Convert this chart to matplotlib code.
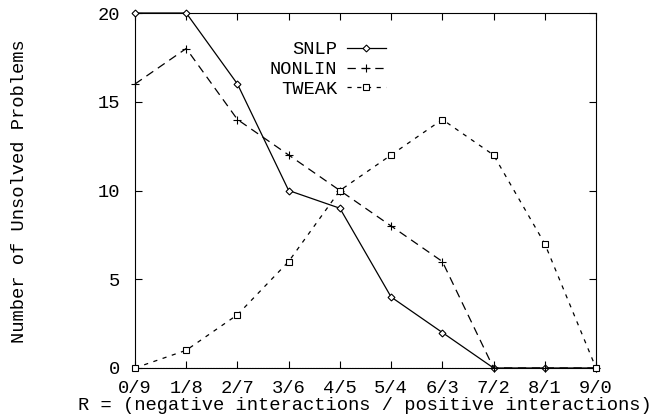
import numpy as np
import matplotlib
matplotlib.use('Agg')
from matplotlib import pyplot as plt

plt.rcParams['font.family'] = ['Liberation Mono', 'DejaVu Sans Mono']
plt.rcParams['font.size'] = 13.5
plt.rcParams['lines.scale_dashes'] = False

# Data
ratios = ['0/9', '1/8', '2/7', '3/6', '4/5', '5/4', '6/3', '7/2', '8/1', '9/0']
snlp = [20, 20, 16, 10, 9, 4, 2, 0, 0, 0]
nonlin = [16, 18, 14, 12, 10, 8, 6, 0, 0, 0]
tweak = [0, 1, 3, 6, 10, 12, 14, 12, 7, 0]

x = np.arange(len(ratios))

fig = plt.figure(figsize=(6.66, 4.2), dpi=100)
ax = fig.add_axes([135/666, 1 - 368/420, (596 - 135)/666, (368 - 13)/420])

# dotted zero axis like gnuplot
ax.axhline(0, color='gray', lw=0.8, ls=(0, (1, 1)), zorder=1)

ax.plot(x, snlp, color='black', lw=0.9, marker='D', markersize=3.5,
        markerfacecolor='white', markeredgewidth=0.8, label='SNLP',
        zorder=3, clip_on=False)
ax.plot(x, nonlin, color='black', lw=0.9, dashes=(6, 4), marker='+',
        markersize=6, markeredgewidth=0.8, label='NONLIN', zorder=3,
        clip_on=False)
ax.plot(x, tweak, color='black', lw=0.9, dashes=(3, 4), marker='s',
        markersize=4.5, markerfacecolor='white', markeredgewidth=0.8,
        label='TWEAK', zorder=3, clip_on=False)

ax.set_xlim(0, 9)
ax.set_ylim(0, 20)
ax.set_xticks(x)
ax.set_xticklabels(ratios)
ax.set_yticks([0, 5, 10, 15, 20])
ax.tick_params(direction='in', length=5, width=0.8, top=True, right=True)
ax.tick_params(axis='x', pad=8.5)
ax.tick_params(axis='y', pad=11)
for s in ax.spines.values():
    s.set_linewidth(0.8)

fig.text(365/666, 1 - 406/420, 'R = (negative interactions / positive interactions)',
         ha='center', va='center')
fig.text(20/666, 1 - 191/420, 'Number of Unsolved Problems',
         ha='center', va='center', rotation=90)

ax.legend(loc='upper right', bbox_to_anchor=(386/666, 1 - 41/420),
          bbox_transform=fig.transFigure, frameon=False, markerfirst=False,
          borderpad=0, borderaxespad=0, labelspacing=0.15, handlelength=2.1,
          handletextpad=0.5)

fig.savefig('out.png', dpi=100)
